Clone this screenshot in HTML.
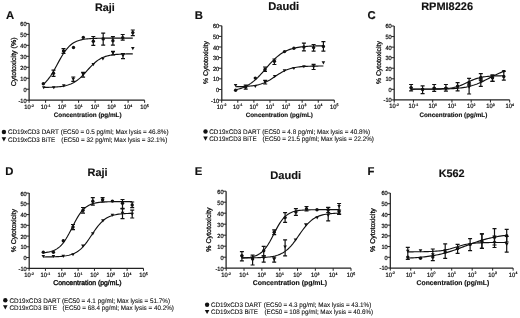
<!DOCTYPE html>
<html><head><meta charset="utf-8"><style>
html,body{margin:0;padding:0;background:#fff;}
body{width:520px;height:318px;overflow:hidden;}
svg{display:block;font-family:"Liberation Sans", sans-serif;filter:blur(0.35px);text-rendering:geometricPrecision;}
text{fill:#111;stroke:#111;stroke-width:0.22px;}
text[font-weight=bold]{stroke-width:0.15px;}
</style></head><body>
<svg width="520" height="318" viewBox="0 0 520 318">
<rect width="520" height="318" fill="#fff"/>
<text x="5.99" y="18.60" font-size="11.30" font-weight="bold">A</text>
<text x="94.98" y="10.50" font-size="10.79" font-weight="bold">Raji</text>
<path d="M29.10 23.40V100.20H144.60" fill="none" stroke="#222" stroke-width="1.25"/>
<text x="20.29" y="25.88" font-size="6.05" textLength="6.23" lengthAdjust="spacingAndGlyphs">60</text>
<text x="20.29" y="36.85" font-size="6.05" textLength="6.23" lengthAdjust="spacingAndGlyphs">50</text>
<text x="20.29" y="47.82" font-size="6.05" textLength="6.23" lengthAdjust="spacingAndGlyphs">40</text>
<text x="20.29" y="58.79" font-size="6.05" textLength="6.23" lengthAdjust="spacingAndGlyphs">30</text>
<text x="20.29" y="69.77" font-size="6.05" textLength="6.23" lengthAdjust="spacingAndGlyphs">20</text>
<text x="20.29" y="80.74" font-size="6.05" textLength="6.23" lengthAdjust="spacingAndGlyphs">10</text>
<text x="23.40" y="91.71" font-size="6.05" textLength="3.11" lengthAdjust="spacingAndGlyphs">0</text>
<text x="18.43" y="102.68" font-size="6.05" textLength="8.09" lengthAdjust="spacingAndGlyphs">-10</text>
<text x="24.23" y="108.70" font-size="6.26" textLength="6.45" lengthAdjust="spacingAndGlyphs">10</text>
<text x="30.78" y="106.50" font-size="3.48">-2</text>
<text x="40.73" y="108.70" font-size="6.26" textLength="6.45" lengthAdjust="spacingAndGlyphs">10</text>
<text x="47.28" y="106.50" font-size="3.48">-1</text>
<text x="57.81" y="108.70" font-size="6.26" textLength="6.45" lengthAdjust="spacingAndGlyphs">10</text>
<text x="64.36" y="106.50" font-size="3.48">0</text>
<text x="74.31" y="108.70" font-size="6.26" textLength="6.45" lengthAdjust="spacingAndGlyphs">10</text>
<text x="80.86" y="106.50" font-size="3.48">1</text>
<text x="90.81" y="108.70" font-size="6.26" textLength="6.45" lengthAdjust="spacingAndGlyphs">10</text>
<text x="97.36" y="106.50" font-size="3.48">2</text>
<text x="107.31" y="108.70" font-size="6.26" textLength="6.45" lengthAdjust="spacingAndGlyphs">10</text>
<text x="113.86" y="106.50" font-size="3.48">3</text>
<text x="123.81" y="108.70" font-size="6.26" textLength="6.45" lengthAdjust="spacingAndGlyphs">10</text>
<text x="130.36" y="106.50" font-size="3.48">4</text>
<text x="140.31" y="108.70" font-size="6.26" textLength="6.45" lengthAdjust="spacingAndGlyphs">10</text>
<text x="146.86" y="106.50" font-size="3.48">5</text>
<path d="M26.10 23.40H29.10M26.10 34.37H29.10M26.10 45.34H29.10M26.10 56.31H29.10M26.10 67.29H29.10M26.10 78.26H29.10M26.10 89.23H29.10M26.10 100.20H29.10M29.10 100.20V102.80M45.60 100.20V102.80M62.10 100.20V102.80M78.60 100.20V102.80M95.10 100.20V102.80M111.60 100.20V102.80M128.10 100.20V102.80M144.60 100.20V102.80" fill="none" stroke="#222" stroke-width="1"/>
<text transform="translate(15.90 86.26) rotate(-90)" x="0" y="0" font-size="7.03" style="stroke-width:0.3px">Cytotoxicity (%)</text>
<text x="53.74" y="117.00" font-size="6.33" font-weight="bold">Concentration (pg/mL)</text>
<circle cx="3.90" cy="132.00" r="2.2" fill="#111"/>
<text x="7.88" y="134.20" font-size="6.63" textLength="50.90" lengthAdjust="spacingAndGlyphs" style="stroke-width:0.1px">CD19xCD3 DART</text>
<text x="60.81" y="134.20" font-size="6.63" textLength="107.78" lengthAdjust="spacingAndGlyphs" style="stroke-width:0.1px">(EC50 = 0.5 pg/ml; Max lysis = 46.8%)</text>
<path d="M1.60 137.20H6.20L3.90 141.40Z" fill="#111"/>
<text x="7.88" y="141.70" font-size="6.63" textLength="47.37" lengthAdjust="spacingAndGlyphs" style="stroke-width:0.1px">CD19xCD3 BiTE</text>
<text x="61.31" y="141.70" font-size="6.63" textLength="105.98" lengthAdjust="spacingAndGlyphs" style="stroke-width:0.1px">(EC50 = 32 pg/ml; Max lysis = 32.1%)</text>
<path d="M43.30 84.33 L44.82 83.01 L46.33 81.48 L47.85 79.72 L49.37 77.72 L50.88 75.50 L52.40 73.08 L53.92 70.48 L55.44 67.74 L56.95 64.94 L58.47 62.12 L59.99 59.36 L61.50 56.71 L63.02 54.22 L64.54 51.92 L66.05 49.85 L67.57 48.01 L69.09 46.40 L70.61 45.01 L72.12 43.82 L73.64 42.82 L75.16 41.98 L76.67 41.27 L78.19 40.69 L79.71 40.21 L81.22 39.82 L82.74 39.50 L84.26 39.23 L85.77 39.02 L87.29 38.84 L88.81 38.70 L90.33 38.59 L91.84 38.49 L93.36 38.42 L94.88 38.36 L96.39 38.31 L97.91 38.27 L99.43 38.23 L100.94 38.21 L102.46 38.19 L103.98 38.17 L105.49 38.16 L107.01 38.14 L108.53 38.14 L110.05 38.13 L111.56 38.12 L113.08 38.12 L114.60 38.11 L116.11 38.11 L117.63 38.11 L119.15 38.11 L120.66 38.10 L122.18 38.10 L123.70 38.10 L125.22 38.10 L126.73 38.10 L128.25 38.10 L129.77 38.10 L131.28 38.10 L132.80 38.10" fill="none" stroke="#111" stroke-width="1.15"/>
<circle cx="43.30" cy="83.70" r="1.7" fill="#111"/>
<path d="M53.50 70.10V76.40M51.50 70.10H55.50M51.50 76.40H55.50" stroke="#111" stroke-width="1.2" fill="none"/>
<circle cx="53.50" cy="73.30" r="1.7" fill="#111"/>
<path d="M63.50 48.70V53.30M61.50 48.70H65.50M61.50 53.30H65.50" stroke="#111" stroke-width="1.2" fill="none"/>
<circle cx="63.50" cy="51.00" r="1.7" fill="#111"/>
<circle cx="73.50" cy="47.50" r="1.7" fill="#111"/>
<circle cx="83.30" cy="37.40" r="1.7" fill="#111"/>
<path d="M93.30 36.50V45.30M91.30 36.50H95.30M91.30 45.30H95.30" stroke="#111" stroke-width="1.2" fill="none"/>
<circle cx="93.30" cy="41.20" r="1.7" fill="#111"/>
<path d="M103.20 33.20V45.20M101.20 33.20H105.20M101.20 45.20H105.20" stroke="#111" stroke-width="1.2" fill="none"/>
<circle cx="103.20" cy="38.90" r="1.7" fill="#111"/>
<path d="M112.90 36.70V45.20M110.90 36.70H114.90M110.90 45.20H114.90" stroke="#111" stroke-width="1.2" fill="none"/>
<circle cx="112.90" cy="40.80" r="1.7" fill="#111"/>
<path d="M122.70 34.50V40.10M120.70 34.50H124.70M120.70 40.10H124.70" stroke="#111" stroke-width="1.2" fill="none"/>
<circle cx="122.70" cy="37.60" r="1.7" fill="#111"/>
<path d="M132.80 30.00V35.70M130.80 30.00H134.80M130.80 35.70H134.80" stroke="#111" stroke-width="1.2" fill="none"/>
<circle cx="132.80" cy="32.60" r="1.7" fill="#111"/>
<path d="M43.70 87.40 L45.21 87.37 L46.72 87.35 L48.23 87.31 L49.74 87.27 L51.25 87.21 L52.76 87.15 L54.27 87.07 L55.78 86.98 L57.29 86.87 L58.80 86.73 L60.31 86.56 L61.82 86.36 L63.33 86.11 L64.84 85.82 L66.35 85.47 L67.86 85.05 L69.37 84.56 L70.88 83.97 L72.39 83.29 L73.90 82.50 L75.41 81.58 L76.92 80.54 L78.43 79.37 L79.94 78.07 L81.45 76.66 L82.96 75.13 L84.47 73.53 L85.98 71.87 L87.49 70.18 L89.01 68.51 L90.52 66.87 L92.03 65.31 L93.54 63.84 L95.05 62.48 L96.56 61.25 L98.07 60.14 L99.58 59.17 L101.09 58.32 L102.60 57.58 L104.11 56.95 L105.62 56.41 L107.13 55.96 L108.64 55.58 L110.15 55.26 L111.66 54.99 L113.17 54.77 L114.68 54.59 L116.19 54.44 L117.70 54.31 L119.21 54.21 L120.72 54.12 L122.23 54.05 L123.74 54.00 L125.25 53.95 L126.76 53.91 L128.27 53.88 L129.78 53.85 L131.29 53.83 L132.80 53.81" fill="none" stroke="#111" stroke-width="1.15"/>
<path d="M41.90 86.20H45.50L43.70 89.30Z" fill="#111"/>
<path d="M52.00 86.20H55.60L53.80 89.30Z" fill="#111"/>
<path d="M62.00 84.30H65.60L63.80 87.40Z" fill="#111"/>
<path d="M73.30 77.00V81.40M71.30 77.00H75.30M71.30 81.40H75.30" stroke="#111" stroke-width="1.2" fill="none"/>
<path d="M71.50 77.70H75.10L73.30 80.80Z" fill="#111"/>
<path d="M83.10 72.40V77.10M81.10 72.40H85.10M81.10 77.10H85.10" stroke="#111" stroke-width="1.2" fill="none"/>
<path d="M81.30 73.10H84.90L83.10 76.20Z" fill="#111"/>
<path d="M91.50 63.10H95.10L93.30 66.20Z" fill="#111"/>
<path d="M101.10 57.50H104.70L102.90 60.60Z" fill="#111"/>
<path d="M113.00 51.30V55.00M111.00 51.30H115.00M111.00 55.00H115.00" stroke="#111" stroke-width="1.2" fill="none"/>
<path d="M111.20 51.70H114.80L113.00 54.80Z" fill="#111"/>
<path d="M123.00 53.60V58.60M121.00 53.60H125.00M121.00 58.60H125.00" stroke="#111" stroke-width="1.2" fill="none"/>
<path d="M121.20 54.20H124.80L123.00 57.30Z" fill="#111"/>
<path d="M131.00 47.10H134.60L132.80 50.20Z" fill="#111"/>
<text x="194.74" y="18.60" font-size="11.30" font-weight="bold">B</text>
<text x="268.15" y="10.25" font-size="11.17" font-weight="bold">Daudi</text>
<path d="M221.80 25.80V100.10H334.33" fill="none" stroke="#222" stroke-width="1.25"/>
<text x="212.99" y="28.28" font-size="6.05" textLength="6.23" lengthAdjust="spacingAndGlyphs">60</text>
<text x="212.99" y="38.89" font-size="6.05" textLength="6.23" lengthAdjust="spacingAndGlyphs">50</text>
<text x="212.99" y="49.51" font-size="6.05" textLength="6.23" lengthAdjust="spacingAndGlyphs">40</text>
<text x="212.99" y="60.12" font-size="6.05" textLength="6.23" lengthAdjust="spacingAndGlyphs">30</text>
<text x="212.99" y="70.74" font-size="6.05" textLength="6.23" lengthAdjust="spacingAndGlyphs">20</text>
<text x="212.99" y="81.35" font-size="6.05" textLength="6.23" lengthAdjust="spacingAndGlyphs">10</text>
<text x="216.10" y="91.97" font-size="6.05" textLength="3.11" lengthAdjust="spacingAndGlyphs">0</text>
<text x="211.12" y="102.58" font-size="6.05" textLength="8.09" lengthAdjust="spacingAndGlyphs">-10</text>
<text x="216.83" y="108.60" font-size="6.26" textLength="6.45" lengthAdjust="spacingAndGlyphs">10</text>
<text x="223.38" y="106.40" font-size="3.48">-2</text>
<text x="232.92" y="108.60" font-size="6.26" textLength="6.45" lengthAdjust="spacingAndGlyphs">10</text>
<text x="239.47" y="106.40" font-size="3.48">-1</text>
<text x="249.59" y="108.60" font-size="6.26" textLength="6.45" lengthAdjust="spacingAndGlyphs">10</text>
<text x="256.14" y="106.40" font-size="3.48">0</text>
<text x="265.68" y="108.60" font-size="6.26" textLength="6.45" lengthAdjust="spacingAndGlyphs">10</text>
<text x="272.23" y="106.40" font-size="3.48">1</text>
<text x="281.77" y="108.60" font-size="6.26" textLength="6.45" lengthAdjust="spacingAndGlyphs">10</text>
<text x="288.32" y="106.40" font-size="3.48">2</text>
<text x="297.86" y="108.60" font-size="6.26" textLength="6.45" lengthAdjust="spacingAndGlyphs">10</text>
<text x="304.41" y="106.40" font-size="3.48">3</text>
<text x="313.95" y="108.60" font-size="6.26" textLength="6.45" lengthAdjust="spacingAndGlyphs">10</text>
<text x="320.50" y="106.40" font-size="3.48">4</text>
<text x="330.04" y="108.60" font-size="6.26" textLength="6.45" lengthAdjust="spacingAndGlyphs">10</text>
<text x="336.59" y="106.40" font-size="3.48">5</text>
<path d="M218.80 25.80H221.80M218.80 36.41H221.80M218.80 47.03H221.80M218.80 57.64H221.80M218.80 68.26H221.80M218.80 78.87H221.80M218.80 89.49H221.80M218.80 100.10H221.80M221.70 100.10V102.70M237.79 100.10V102.70M253.88 100.10V102.70M269.97 100.10V102.70M286.06 100.10V102.70M302.15 100.10V102.70M318.24 100.10V102.70M334.33 100.10V102.70" fill="none" stroke="#222" stroke-width="1"/>
<text transform="translate(208.40 84.04) rotate(-90)" x="0" y="0" font-size="6.83" style="stroke-width:0.3px">% Cytotoxicity</text>
<text x="245.74" y="117.00" font-size="6.27" font-weight="bold">Concentration (pg/mL)</text>
<circle cx="205.50" cy="131.50" r="2.2" fill="#111"/>
<text x="209.28" y="133.70" font-size="6.65" textLength="50.99" lengthAdjust="spacingAndGlyphs" style="stroke-width:0.1px">CD19xCD3 DART</text>
<text x="262.21" y="133.70" font-size="6.65" textLength="107.98" lengthAdjust="spacingAndGlyphs" style="stroke-width:0.1px">(EC50 = 4.8 pg/ml; Max lysis = 40.8%)</text>
<path d="M203.20 136.60H207.80L205.50 140.80Z" fill="#111"/>
<text x="209.28" y="141.10" font-size="6.64" textLength="47.43" lengthAdjust="spacingAndGlyphs" style="stroke-width:0.1px">CD19xCD3 BiTE</text>
<text x="262.61" y="141.10" font-size="6.64" textLength="111.38" lengthAdjust="spacingAndGlyphs" style="stroke-width:0.1px">(EC50 = 21.5 pg/ml; Max lysis = 22.2%)</text>
<path d="M235.60 89.78 L237.09 89.45 L238.58 89.07 L240.06 88.64 L241.55 88.15 L243.04 87.59 L244.53 86.96 L246.02 86.26 L247.51 85.47 L248.99 84.59 L250.48 83.62 L251.97 82.55 L253.46 81.38 L254.95 80.12 L256.43 78.76 L257.92 77.30 L259.41 75.77 L260.90 74.17 L262.39 72.51 L263.87 70.82 L265.36 69.10 L266.85 67.37 L268.34 65.67 L269.83 63.99 L271.32 62.37 L272.80 60.81 L274.29 59.34 L275.78 57.94 L277.27 56.65 L278.76 55.45 L280.24 54.34 L281.73 53.34 L283.22 52.43 L284.71 51.61 L286.20 50.88 L287.68 50.23 L289.17 49.65 L290.66 49.14 L292.15 48.68 L293.64 48.29 L295.13 47.94 L296.61 47.64 L298.10 47.37 L299.59 47.14 L301.08 46.94 L302.57 46.76 L304.05 46.61 L305.54 46.48 L307.03 46.37 L308.52 46.27 L310.01 46.18 L311.49 46.11 L312.98 46.04 L314.47 45.99 L315.96 45.94 L317.45 45.90 L318.94 45.87 L320.42 45.83 L321.91 45.81 L323.40 45.79" fill="none" stroke="#111" stroke-width="1.15"/>
<circle cx="235.60" cy="90.20" r="1.7" fill="#111"/>
<path d="M245.70 85.00V89.20M243.70 85.00H247.70M243.70 89.20H247.70" stroke="#111" stroke-width="1.2" fill="none"/>
<circle cx="245.70" cy="86.90" r="1.7" fill="#111"/>
<circle cx="255.30" cy="78.10" r="1.7" fill="#111"/>
<path d="M265.00 67.00V71.40M263.00 67.00H267.00M263.00 71.40H267.00" stroke="#111" stroke-width="1.2" fill="none"/>
<circle cx="265.00" cy="69.50" r="1.7" fill="#111"/>
<path d="M274.40 59.00V64.50M272.40 59.00H276.40M272.40 64.50H276.40" stroke="#111" stroke-width="1.2" fill="none"/>
<circle cx="274.40" cy="61.30" r="1.7" fill="#111"/>
<circle cx="284.50" cy="51.60" r="1.7" fill="#111"/>
<circle cx="293.90" cy="48.20" r="1.7" fill="#111"/>
<path d="M303.90 43.20V50.80M301.90 43.20H305.90M301.90 50.80H305.90" stroke="#111" stroke-width="1.2" fill="none"/>
<circle cx="303.90" cy="47.00" r="1.7" fill="#111"/>
<path d="M313.60 44.50V51.10M311.60 44.50H315.60M311.60 51.10H315.60" stroke="#111" stroke-width="1.2" fill="none"/>
<circle cx="313.60" cy="47.60" r="1.7" fill="#111"/>
<path d="M323.40 41.60V51.10M321.40 41.60H325.40M321.40 51.10H325.40" stroke="#111" stroke-width="1.2" fill="none"/>
<circle cx="323.40" cy="46.40" r="1.7" fill="#111"/>
<path d="M235.60 86.70 L237.09 86.67 L238.58 86.64 L240.06 86.60 L241.55 86.56 L243.04 86.50 L244.53 86.44 L246.02 86.36 L247.51 86.26 L248.99 86.15 L250.48 86.01 L251.97 85.84 L253.46 85.65 L254.95 85.42 L256.43 85.14 L257.92 84.82 L259.41 84.45 L260.90 84.01 L262.39 83.51 L263.87 82.94 L265.36 82.29 L266.85 81.58 L268.34 80.78 L269.83 79.93 L271.32 79.01 L272.80 78.05 L274.29 77.06 L275.78 76.06 L277.27 75.06 L278.76 74.09 L280.24 73.16 L281.73 72.28 L283.22 71.47 L284.71 70.73 L286.20 70.06 L287.68 69.46 L289.17 68.94 L290.66 68.48 L292.15 68.08 L293.64 67.74 L295.13 67.46 L296.61 67.21 L298.10 67.00 L299.59 66.83 L301.08 66.68 L302.57 66.56 L304.05 66.46 L305.54 66.38 L307.03 66.31 L308.52 66.25 L310.01 66.20 L311.49 66.16 L312.98 66.13 L314.47 66.10 L315.96 66.07 L317.45 66.06 L318.94 66.04 L320.42 66.03 L321.91 66.02 L323.40 66.01" fill="none" stroke="#111" stroke-width="1.15"/>
<path d="M233.80 83.90H237.40L235.60 87.00Z" fill="#111"/>
<path d="M243.90 85.40H247.50L245.70 88.50Z" fill="#111"/>
<path d="M253.50 85.00H257.10L255.30 88.10Z" fill="#111"/>
<path d="M265.20 80.30V84.00M263.20 80.30H267.20M263.20 84.00H267.20" stroke="#111" stroke-width="1.2" fill="none"/>
<path d="M263.40 80.70H267.00L265.20 83.80Z" fill="#111"/>
<path d="M272.90 74.90H276.50L274.70 78.00Z" fill="#111"/>
<path d="M282.70 69.20H286.30L284.50 72.30Z" fill="#111"/>
<path d="M292.10 67.00H295.70L293.90 70.10Z" fill="#111"/>
<path d="M302.10 65.20H305.70L303.90 68.30Z" fill="#111"/>
<path d="M313.60 64.40V69.50M311.60 64.40H315.60M311.60 69.50H315.60" stroke="#111" stroke-width="1.2" fill="none"/>
<path d="M311.80 65.50H315.40L313.60 68.60Z" fill="#111"/>
<path d="M321.60 61.30H325.20L323.40 64.40Z" fill="#111"/>
<text x="367.54" y="18.60" font-size="11.30" font-weight="bold">C</text>
<text x="421.17" y="10.00" font-size="10.97" font-weight="bold">RPMI8226</text>
<path d="M394.20 26.00V99.90H509.70" fill="none" stroke="#222" stroke-width="1.25"/>
<text x="385.39" y="28.48" font-size="6.05" textLength="6.23" lengthAdjust="spacingAndGlyphs">60</text>
<text x="385.39" y="39.04" font-size="6.05" textLength="6.23" lengthAdjust="spacingAndGlyphs">50</text>
<text x="385.39" y="49.59" font-size="6.05" textLength="6.23" lengthAdjust="spacingAndGlyphs">40</text>
<text x="385.39" y="60.15" font-size="6.05" textLength="6.23" lengthAdjust="spacingAndGlyphs">30</text>
<text x="385.39" y="70.71" font-size="6.05" textLength="6.23" lengthAdjust="spacingAndGlyphs">20</text>
<text x="385.39" y="81.27" font-size="6.05" textLength="6.23" lengthAdjust="spacingAndGlyphs">10</text>
<text x="388.50" y="91.82" font-size="6.05" textLength="3.11" lengthAdjust="spacingAndGlyphs">0</text>
<text x="383.52" y="102.38" font-size="6.05" textLength="8.09" lengthAdjust="spacingAndGlyphs">-10</text>
<text x="389.33" y="108.40" font-size="6.26" textLength="6.45" lengthAdjust="spacingAndGlyphs">10</text>
<text x="395.88" y="106.20" font-size="3.48">-2</text>
<text x="408.58" y="108.40" font-size="6.26" textLength="6.45" lengthAdjust="spacingAndGlyphs">10</text>
<text x="415.13" y="106.20" font-size="3.48">-1</text>
<text x="428.41" y="108.40" font-size="6.26" textLength="6.45" lengthAdjust="spacingAndGlyphs">10</text>
<text x="434.96" y="106.20" font-size="3.48">0</text>
<text x="447.66" y="108.40" font-size="6.26" textLength="6.45" lengthAdjust="spacingAndGlyphs">10</text>
<text x="454.21" y="106.20" font-size="3.48">1</text>
<text x="466.91" y="108.40" font-size="6.26" textLength="6.45" lengthAdjust="spacingAndGlyphs">10</text>
<text x="473.46" y="106.20" font-size="3.48">2</text>
<text x="486.16" y="108.40" font-size="6.26" textLength="6.45" lengthAdjust="spacingAndGlyphs">10</text>
<text x="492.71" y="106.20" font-size="3.48">3</text>
<text x="505.41" y="108.40" font-size="6.26" textLength="6.45" lengthAdjust="spacingAndGlyphs">10</text>
<text x="511.96" y="106.20" font-size="3.48">4</text>
<path d="M391.20 26.00H394.20M391.20 36.56H394.20M391.20 47.11H394.20M391.20 57.67H394.20M391.20 68.23H394.20M391.20 78.79H394.20M391.20 89.34H394.20M391.20 99.90H394.20M394.20 99.90V102.50M413.45 99.90V102.50M432.70 99.90V102.50M451.95 99.90V102.50M471.20 99.90V102.50M490.45 99.90V102.50M509.70 99.90V102.50" fill="none" stroke="#222" stroke-width="1"/>
<text transform="translate(380.70 84.04) rotate(-90)" x="0" y="0" font-size="6.83" style="stroke-width:0.3px">% Cytotoxicity</text>
<text x="419.44" y="117.00" font-size="6.34" font-weight="bold">Concentration (pg/mL)</text>
<path d="M411.10 89.05 L412.67 89.05 L414.24 89.05 L415.81 89.04 L417.38 89.04 L418.96 89.04 L420.53 89.04 L422.10 89.03 L423.67 89.03 L425.24 89.02 L426.81 89.01 L428.38 89.00 L429.95 88.99 L431.53 88.98 L433.10 88.96 L434.67 88.93 L436.24 88.91 L437.81 88.87 L439.38 88.82 L440.95 88.77 L442.52 88.69 L444.09 88.61 L445.67 88.50 L447.24 88.36 L448.81 88.20 L450.38 88.00 L451.95 87.76 L453.52 87.47 L455.09 87.13 L456.66 86.73 L458.24 86.26 L459.81 85.73 L461.38 85.14 L462.95 84.48 L464.52 83.78 L466.09 83.05 L467.66 82.29 L469.23 81.54 L470.81 80.82 L472.38 80.12 L473.95 79.48 L475.52 78.90 L477.09 78.39 L478.66 77.94 L480.23 77.55 L481.80 77.22 L483.37 76.94 L484.95 76.71 L486.52 76.52 L488.09 76.36 L489.66 76.24 L491.23 76.13 L492.80 76.05 L494.37 75.98 L495.94 75.93 L497.52 75.88 L499.09 75.85 L500.66 75.82 L502.23 75.80 L503.80 75.78" fill="none" stroke="#111" stroke-width="1.15"/>
<path d="M411.10 84.50V90.80M409.10 84.50H413.10M409.10 90.80H413.10" stroke="#111" stroke-width="1.2" fill="none"/>
<circle cx="411.10" cy="87.70" r="1.7" fill="#111"/>
<path d="M422.60 85.80V93.70M420.60 85.80H424.60M420.60 93.70H424.60" stroke="#111" stroke-width="1.2" fill="none"/>
<circle cx="422.60" cy="89.60" r="1.7" fill="#111"/>
<path d="M434.20 84.50V91.40M432.20 84.50H436.20M432.20 91.40H436.20" stroke="#111" stroke-width="1.2" fill="none"/>
<circle cx="434.20" cy="88.30" r="1.7" fill="#111"/>
<path d="M445.90 84.50V91.20M443.90 84.50H447.90M443.90 91.20H447.90" stroke="#111" stroke-width="1.2" fill="none"/>
<circle cx="445.90" cy="88.30" r="1.7" fill="#111"/>
<path d="M457.60 82.70V90.80M455.60 82.70H459.60M455.60 90.80H459.60" stroke="#111" stroke-width="1.2" fill="none"/>
<circle cx="457.60" cy="86.10" r="1.7" fill="#111"/>
<path d="M469.10 78.30V85.20M467.10 78.30H471.10M467.10 85.20H471.10" stroke="#111" stroke-width="1.2" fill="none"/>
<circle cx="469.10" cy="82.50" r="1.7" fill="#111"/>
<path d="M480.80 73.60V80.20M478.80 73.60H482.80M478.80 80.20H482.80" stroke="#111" stroke-width="1.2" fill="none"/>
<circle cx="480.80" cy="77.50" r="1.7" fill="#111"/>
<path d="M492.50 75.10V81.40M490.50 75.10H494.50M490.50 81.40H494.50" stroke="#111" stroke-width="1.2" fill="none"/>
<circle cx="492.50" cy="77.80" r="1.7" fill="#111"/>
<path d="M503.80 71.40V80.20M501.80 71.40H505.80M501.80 80.20H505.80" stroke="#111" stroke-width="1.2" fill="none"/>
<circle cx="503.80" cy="76.50" r="1.7" fill="#111"/>
<path d="M411.10 89.28 L412.67 89.27 L414.24 89.27 L415.81 89.27 L417.38 89.27 L418.96 89.26 L420.53 89.26 L422.10 89.25 L423.67 89.25 L425.24 89.24 L426.81 89.23 L428.38 89.22 L429.95 89.21 L431.53 89.20 L433.10 89.19 L434.67 89.17 L436.24 89.15 L437.81 89.13 L439.38 89.10 L440.95 89.07 L442.52 89.03 L444.09 88.99 L445.67 88.95 L447.24 88.89 L448.81 88.83 L450.38 88.75 L451.95 88.67 L453.52 88.57 L455.09 88.46 L456.66 88.33 L458.24 88.18 L459.81 88.01 L461.38 87.82 L462.95 87.60 L464.52 87.35 L466.09 87.07 L467.66 86.75 L469.23 86.39 L470.81 85.99 L472.38 85.54 L473.95 85.05 L475.52 84.51 L477.09 83.92 L478.66 83.29 L480.23 82.61 L481.80 81.89 L483.37 81.13 L484.95 80.34 L486.52 79.53 L488.09 78.71 L489.66 77.88 L491.23 77.06 L492.80 76.25 L494.37 75.46 L495.94 74.70 L497.52 73.97 L499.09 73.29 L500.66 72.66 L502.23 72.07 L503.80 71.52" fill="none" stroke="#111" stroke-width="1.15"/>
<path d="M409.30 87.00H412.90L411.10 90.10Z" fill="#111"/>
<path d="M420.80 88.00H424.40L422.60 91.10Z" fill="#111"/>
<path d="M432.40 87.30H436.00L434.20 90.40Z" fill="#111"/>
<path d="M444.10 87.00H447.70L445.90 90.10Z" fill="#111"/>
<path d="M455.80 86.20H459.40L457.60 89.30Z" fill="#111"/>
<path d="M469.10 84.00V94.00M467.10 84.00H471.10M467.10 94.00H471.10" stroke="#111" stroke-width="1.2" fill="none"/>
<path d="M467.30 85.70H470.90L469.10 88.80Z" fill="#111"/>
<path d="M480.80 78.90V86.40M478.80 78.90H482.80M478.80 86.40H482.80" stroke="#111" stroke-width="1.2" fill="none"/>
<path d="M479.00 80.30H482.60L480.80 83.40Z" fill="#111"/>
<path d="M492.50 75.10V81.40M490.50 75.10H494.50M490.50 81.40H494.50" stroke="#111" stroke-width="1.2" fill="none"/>
<path d="M490.70 77.00H494.30L492.50 80.10Z" fill="#111"/>
<path d="M502.00 70.10H505.60L503.80 73.20Z" fill="#111"/>
<text x="5.24" y="175.10" font-size="11.30" font-weight="bold">D</text>
<text x="87.57" y="176.00" font-size="10.91" font-weight="bold">Raji</text>
<path d="M29.20 193.10V268.30H143.48" fill="none" stroke="#222" stroke-width="1.25"/>
<text x="20.39" y="195.58" font-size="6.05" textLength="6.23" lengthAdjust="spacingAndGlyphs">60</text>
<text x="20.39" y="206.32" font-size="6.05" textLength="6.23" lengthAdjust="spacingAndGlyphs">50</text>
<text x="20.39" y="217.07" font-size="6.05" textLength="6.23" lengthAdjust="spacingAndGlyphs">40</text>
<text x="20.39" y="227.81" font-size="6.05" textLength="6.23" lengthAdjust="spacingAndGlyphs">30</text>
<text x="20.39" y="238.55" font-size="6.05" textLength="6.23" lengthAdjust="spacingAndGlyphs">20</text>
<text x="20.39" y="249.29" font-size="6.05" textLength="6.23" lengthAdjust="spacingAndGlyphs">10</text>
<text x="23.50" y="260.04" font-size="6.05" textLength="3.11" lengthAdjust="spacingAndGlyphs">0</text>
<text x="18.52" y="270.78" font-size="6.05" textLength="8.09" lengthAdjust="spacingAndGlyphs">-10</text>
<text x="24.23" y="276.80" font-size="6.26" textLength="6.45" lengthAdjust="spacingAndGlyphs">10</text>
<text x="30.78" y="274.60" font-size="3.48">-2</text>
<text x="40.57" y="276.80" font-size="6.26" textLength="6.45" lengthAdjust="spacingAndGlyphs">10</text>
<text x="47.12" y="274.60" font-size="3.48">-1</text>
<text x="57.49" y="276.80" font-size="6.26" textLength="6.45" lengthAdjust="spacingAndGlyphs">10</text>
<text x="64.04" y="274.60" font-size="3.48">0</text>
<text x="73.83" y="276.80" font-size="6.26" textLength="6.45" lengthAdjust="spacingAndGlyphs">10</text>
<text x="80.38" y="274.60" font-size="3.48">1</text>
<text x="90.17" y="276.80" font-size="6.26" textLength="6.45" lengthAdjust="spacingAndGlyphs">10</text>
<text x="96.72" y="274.60" font-size="3.48">2</text>
<text x="106.51" y="276.80" font-size="6.26" textLength="6.45" lengthAdjust="spacingAndGlyphs">10</text>
<text x="113.06" y="274.60" font-size="3.48">3</text>
<text x="122.85" y="276.80" font-size="6.26" textLength="6.45" lengthAdjust="spacingAndGlyphs">10</text>
<text x="129.40" y="274.60" font-size="3.48">4</text>
<text x="139.19" y="276.80" font-size="6.26" textLength="6.45" lengthAdjust="spacingAndGlyphs">10</text>
<text x="145.74" y="274.60" font-size="3.48">5</text>
<path d="M26.20 193.10H29.20M26.20 203.84H29.20M26.20 214.59H29.20M26.20 225.33H29.20M26.20 236.07H29.20M26.20 246.81H29.20M26.20 257.56H29.20M26.20 268.30H29.20M29.10 268.30V270.90M45.44 268.30V270.90M61.78 268.30V270.90M78.12 268.30V270.90M94.46 268.30V270.90M110.80 268.30V270.90M127.14 268.30V270.90M143.48 268.30V270.90" fill="none" stroke="#222" stroke-width="1"/>
<text transform="translate(15.80 252.24) rotate(-90)" x="0" y="0" font-size="6.87" style="stroke-width:0.3px">% Cytotoxicity</text>
<text x="53.35" y="284.60" font-size="6.86" style="stroke-width:0.4px">Concentration (pg/mL)</text>
<circle cx="5.30" cy="300.30" r="2.2" fill="#111"/>
<text x="9.43" y="302.50" font-size="6.65" textLength="51.04" lengthAdjust="spacingAndGlyphs" style="stroke-width:0.1px">CD19xCD3 DART</text>
<text x="61.91" y="302.50" font-size="6.65" textLength="108.09" lengthAdjust="spacingAndGlyphs" style="stroke-width:0.1px">(EC50 = 4.1 pg/ml; Max lysis = 51.7%)</text>
<path d="M3.00 305.20H7.60L5.30 309.40Z" fill="#111"/>
<text x="9.43" y="309.70" font-size="6.64" textLength="47.43" lengthAdjust="spacingAndGlyphs" style="stroke-width:0.1px">CD19xCD3 BiTE</text>
<text x="62.61" y="309.70" font-size="6.64" textLength="111.38" lengthAdjust="spacingAndGlyphs" style="stroke-width:0.1px">(EC50 = 68.4 pg/ml; Max lysis = 40.2%)</text>
<path d="M43.30 252.79 L44.81 252.63 L46.31 252.44 L47.82 252.19 L49.33 251.89 L50.83 251.51 L52.34 251.04 L53.85 250.46 L55.35 249.75 L56.86 248.88 L58.37 247.83 L59.87 246.57 L61.38 245.08 L62.89 243.33 L64.39 241.32 L65.90 239.05 L67.41 236.53 L68.92 233.79 L70.42 230.90 L71.93 227.92 L73.44 224.93 L74.94 222.01 L76.45 219.22 L77.96 216.64 L79.46 214.29 L80.97 212.20 L82.48 210.38 L83.98 208.82 L85.49 207.50 L87.00 206.39 L88.50 205.47 L90.01 204.72 L91.52 204.10 L93.02 203.61 L94.53 203.20 L96.04 202.88 L97.54 202.62 L99.05 202.41 L100.56 202.24 L102.06 202.11 L103.57 202.00 L105.08 201.92 L106.58 201.85 L108.09 201.80 L109.60 201.76 L111.11 201.72 L112.61 201.70 L114.12 201.68 L115.63 201.66 L117.13 201.65 L118.64 201.64 L120.15 201.63 L121.65 201.62 L123.16 201.62 L124.67 201.61 L126.17 201.61 L127.68 201.60 L129.19 201.60 L130.69 201.60 L132.20 201.60" fill="none" stroke="#111" stroke-width="1.15"/>
<circle cx="43.30" cy="252.20" r="1.7" fill="#111"/>
<circle cx="53.40" cy="252.20" r="1.7" fill="#111"/>
<circle cx="63.30" cy="240.80" r="1.7" fill="#111"/>
<path d="M73.00 224.50V229.60M71.00 224.50H75.00M71.00 229.60H75.00" stroke="#111" stroke-width="1.2" fill="none"/>
<circle cx="73.00" cy="227.00" r="1.7" fill="#111"/>
<path d="M83.00 207.50V213.20M81.00 207.50H85.00M81.00 213.20H85.00" stroke="#111" stroke-width="1.2" fill="none"/>
<circle cx="83.00" cy="210.30" r="1.7" fill="#111"/>
<path d="M92.80 197.60V205.10M90.80 197.60H94.80M90.80 205.10H94.80" stroke="#111" stroke-width="1.2" fill="none"/>
<circle cx="92.80" cy="201.30" r="1.7" fill="#111"/>
<path d="M102.60 197.60V202.00M100.60 197.60H104.60M100.60 202.00H104.60" stroke="#111" stroke-width="1.2" fill="none"/>
<circle cx="102.60" cy="199.80" r="1.7" fill="#111"/>
<circle cx="112.40" cy="201.10" r="1.7" fill="#111"/>
<path d="M122.50 199.50V208.90M120.50 199.50H124.50M120.50 208.90H124.50" stroke="#111" stroke-width="1.2" fill="none"/>
<circle cx="122.50" cy="203.20" r="1.7" fill="#111"/>
<path d="M132.20 202.00V207.60M130.20 202.00H134.20M130.20 207.60H134.20" stroke="#111" stroke-width="1.2" fill="none"/>
<circle cx="132.20" cy="204.90" r="1.7" fill="#111"/>
<path d="M43.30 256.97 L44.81 256.96 L46.31 256.94 L47.82 256.92 L49.33 256.90 L50.83 256.87 L52.34 256.83 L53.85 256.79 L55.35 256.73 L56.86 256.67 L58.37 256.58 L59.87 256.48 L61.38 256.36 L62.89 256.21 L64.39 256.03 L65.90 255.80 L67.41 255.53 L68.92 255.20 L70.42 254.80 L71.93 254.32 L73.44 253.74 L74.94 253.05 L76.45 252.23 L77.96 251.26 L79.46 250.14 L80.97 248.84 L82.48 247.37 L83.98 245.71 L85.49 243.88 L87.00 241.89 L88.50 239.77 L90.01 237.55 L91.52 235.28 L93.02 233.00 L94.53 230.77 L96.04 228.63 L97.54 226.62 L99.05 224.76 L100.56 223.07 L102.06 221.56 L103.57 220.24 L105.08 219.09 L106.58 218.10 L108.09 217.26 L109.60 216.55 L111.11 215.95 L112.61 215.45 L114.12 215.04 L115.63 214.70 L117.13 214.41 L118.64 214.18 L120.15 213.99 L121.65 213.84 L123.16 213.71 L124.67 213.61 L126.17 213.52 L127.68 213.45 L129.19 213.40 L130.69 213.35 L132.20 213.31" fill="none" stroke="#111" stroke-width="1.15"/>
<path d="M41.50 254.90H45.10L43.30 258.00Z" fill="#111"/>
<path d="M51.60 254.90H55.20L53.40 258.00Z" fill="#111"/>
<path d="M61.50 254.80H65.10L63.30 257.90Z" fill="#111"/>
<path d="M71.20 253.20H74.80L73.00 256.30Z" fill="#111"/>
<path d="M81.10 244.60H84.70L82.90 247.70Z" fill="#111"/>
<path d="M91.00 232.30H94.60L92.80 235.40Z" fill="#111"/>
<path d="M101.10 219.30H104.70L102.90 222.40Z" fill="#111"/>
<path d="M110.60 213.70H114.20L112.40 216.80Z" fill="#111"/>
<path d="M122.50 208.30V218.70M120.50 208.30H124.50M120.50 218.70H124.50" stroke="#111" stroke-width="1.2" fill="none"/>
<path d="M120.70 211.80H124.30L122.50 214.90Z" fill="#111"/>
<path d="M132.20 210.20V218.00M130.20 210.20H134.20M130.20 218.00H134.20" stroke="#111" stroke-width="1.2" fill="none"/>
<path d="M130.40 212.70H134.00L132.20 215.80Z" fill="#111"/>
<text x="194.64" y="175.10" font-size="11.30" font-weight="bold">E</text>
<text x="270.36" y="178.80" font-size="11.10" font-weight="bold">Daudi</text>
<path d="M226.10 191.20V268.20H351.01" fill="none" stroke="#222" stroke-width="1.25"/>
<text x="217.29" y="193.68" font-size="6.05" textLength="6.23" lengthAdjust="spacingAndGlyphs">60</text>
<text x="217.29" y="204.68" font-size="6.05" textLength="6.23" lengthAdjust="spacingAndGlyphs">50</text>
<text x="217.29" y="215.68" font-size="6.05" textLength="6.23" lengthAdjust="spacingAndGlyphs">40</text>
<text x="217.29" y="226.68" font-size="6.05" textLength="6.23" lengthAdjust="spacingAndGlyphs">30</text>
<text x="217.29" y="237.68" font-size="6.05" textLength="6.23" lengthAdjust="spacingAndGlyphs">20</text>
<text x="217.29" y="248.68" font-size="6.05" textLength="6.23" lengthAdjust="spacingAndGlyphs">10</text>
<text x="220.40" y="259.68" font-size="6.05" textLength="3.11" lengthAdjust="spacingAndGlyphs">0</text>
<text x="215.42" y="270.68" font-size="6.05" textLength="8.09" lengthAdjust="spacingAndGlyphs">-10</text>
<text x="221.33" y="276.70" font-size="6.26" textLength="6.45" lengthAdjust="spacingAndGlyphs">10</text>
<text x="227.88" y="274.50" font-size="3.48">-2</text>
<text x="239.16" y="276.70" font-size="6.26" textLength="6.45" lengthAdjust="spacingAndGlyphs">10</text>
<text x="245.71" y="274.50" font-size="3.48">-1</text>
<text x="257.57" y="276.70" font-size="6.26" textLength="6.45" lengthAdjust="spacingAndGlyphs">10</text>
<text x="264.12" y="274.50" font-size="3.48">0</text>
<text x="275.40" y="276.70" font-size="6.26" textLength="6.45" lengthAdjust="spacingAndGlyphs">10</text>
<text x="281.95" y="274.50" font-size="3.48">1</text>
<text x="293.23" y="276.70" font-size="6.26" textLength="6.45" lengthAdjust="spacingAndGlyphs">10</text>
<text x="299.78" y="274.50" font-size="3.48">2</text>
<text x="311.06" y="276.70" font-size="6.26" textLength="6.45" lengthAdjust="spacingAndGlyphs">10</text>
<text x="317.61" y="274.50" font-size="3.48">3</text>
<text x="328.89" y="276.70" font-size="6.26" textLength="6.45" lengthAdjust="spacingAndGlyphs">10</text>
<text x="335.44" y="274.50" font-size="3.48">4</text>
<text x="346.72" y="276.70" font-size="6.26" textLength="6.45" lengthAdjust="spacingAndGlyphs">10</text>
<text x="353.27" y="274.50" font-size="3.48">5</text>
<path d="M223.10 191.20H226.10M223.10 202.20H226.10M223.10 213.20H226.10M223.10 224.20H226.10M223.10 235.20H226.10M223.10 246.20H226.10M223.10 257.20H226.10M223.10 268.20H226.10M226.20 268.20V270.80M244.03 268.20V270.80M261.86 268.20V270.80M279.69 268.20V270.80M297.52 268.20V270.80M315.35 268.20V270.80M333.18 268.20V270.80M351.01 268.20V270.80" fill="none" stroke="#222" stroke-width="1"/>
<text transform="translate(211.10 251.65) rotate(-90)" x="0" y="0" font-size="7.03" style="stroke-width:0.3px">% Cytotoxicity</text>
<text x="252.82" y="284.80" font-size="6.93" font-weight="bold">Concentration (pg/mL)</text>
<circle cx="207.10" cy="304.80" r="2.2" fill="#111"/>
<text x="210.98" y="307.00" font-size="6.61" textLength="50.75" lengthAdjust="spacingAndGlyphs" style="stroke-width:0.1px">CD19xCD3 DART</text>
<text x="263.81" y="307.00" font-size="6.61" textLength="107.48" lengthAdjust="spacingAndGlyphs" style="stroke-width:0.1px">(EC50 = 4.3 pg/ml; Max lysis = 43.1%)</text>
<path d="M204.80 309.90H209.40L207.10 314.10Z" fill="#111"/>
<text x="210.98" y="314.40" font-size="6.59" textLength="47.06" lengthAdjust="spacingAndGlyphs" style="stroke-width:0.1px">CD19xCD3 BiTE</text>
<text x="264.41" y="314.40" font-size="6.59" textLength="108.78" lengthAdjust="spacingAndGlyphs" style="stroke-width:0.1px">(EC50 = 108 pg/ml; Max lysis = 40.6%)</text>
<path d="M241.90 257.98 L243.55 257.89 L245.19 257.78 L246.84 257.64 L248.49 257.45 L250.14 257.21 L251.78 256.90 L253.43 256.50 L255.08 255.99 L256.73 255.35 L258.37 254.53 L260.02 253.51 L261.67 252.25 L263.32 250.71 L264.96 248.86 L266.61 246.70 L268.26 244.20 L269.91 241.42 L271.55 238.40 L273.20 235.24 L274.85 232.03 L276.50 228.88 L278.14 225.91 L279.79 223.18 L281.44 220.75 L283.09 218.65 L284.73 216.87 L286.38 215.39 L288.03 214.18 L289.68 213.20 L291.32 212.43 L292.97 211.81 L294.62 211.32 L296.27 210.95 L297.91 210.65 L299.56 210.42 L301.21 210.25 L302.86 210.11 L304.50 210.00 L306.15 209.92 L307.80 209.86 L309.45 209.81 L311.09 209.77 L312.74 209.75 L314.39 209.72 L316.04 209.71 L317.68 209.69 L319.33 209.68 L320.98 209.68 L322.63 209.67 L324.27 209.67 L325.92 209.66 L327.57 209.66 L329.22 209.66 L330.86 209.66 L332.51 209.66 L334.16 209.65 L335.81 209.65 L337.45 209.65 L339.10 209.65" fill="none" stroke="#111" stroke-width="1.15"/>
<path d="M241.90 251.70V260.90M239.90 251.70H243.90M239.90 260.90H243.90" stroke="#111" stroke-width="1.2" fill="none"/>
<circle cx="241.90" cy="255.80" r="1.7" fill="#111"/>
<path d="M252.60 255.20V265.00M250.60 255.20H254.60M250.60 265.00H254.60" stroke="#111" stroke-width="1.2" fill="none"/>
<circle cx="252.60" cy="258.90" r="1.7" fill="#111"/>
<path d="M263.70 246.40V255.80M261.70 246.40H265.70M261.70 255.80H265.70" stroke="#111" stroke-width="1.2" fill="none"/>
<circle cx="263.70" cy="250.80" r="1.7" fill="#111"/>
<path d="M274.20 229.90V234.60M272.20 229.90H276.20M272.20 234.60H276.20" stroke="#111" stroke-width="1.2" fill="none"/>
<circle cx="274.20" cy="232.20" r="1.7" fill="#111"/>
<path d="M285.10 212.60V222.40M283.10 212.60H287.10M283.10 222.40H287.10" stroke="#111" stroke-width="1.2" fill="none"/>
<circle cx="285.10" cy="217.60" r="1.7" fill="#111"/>
<path d="M295.90 208.60V215.30M293.90 208.60H297.90M293.90 215.30H297.90" stroke="#111" stroke-width="1.2" fill="none"/>
<circle cx="295.90" cy="212.00" r="1.7" fill="#111"/>
<path d="M306.50 206.50V210.90M304.50 206.50H308.50M304.50 210.90H308.50" stroke="#111" stroke-width="1.2" fill="none"/>
<circle cx="306.50" cy="208.70" r="1.7" fill="#111"/>
<circle cx="317.00" cy="209.80" r="1.7" fill="#111"/>
<path d="M328.20 207.30V212.50M326.20 207.30H330.20M326.20 212.50H330.20" stroke="#111" stroke-width="1.2" fill="none"/>
<circle cx="328.20" cy="210.10" r="1.7" fill="#111"/>
<path d="M339.10 210.00V214.30M337.10 210.00H341.10M337.10 214.30H341.10" stroke="#111" stroke-width="1.2" fill="none"/>
<circle cx="339.10" cy="211.50" r="1.7" fill="#111"/>
<path d="M241.90 257.88 L243.55 257.87 L245.19 257.87 L246.84 257.86 L248.49 257.84 L250.14 257.83 L251.78 257.81 L253.43 257.78 L255.08 257.75 L256.73 257.71 L258.37 257.67 L260.02 257.61 L261.67 257.54 L263.32 257.45 L264.96 257.35 L266.61 257.22 L268.26 257.05 L269.91 256.86 L271.55 256.62 L273.20 256.32 L274.85 255.96 L276.50 255.52 L278.14 254.99 L279.79 254.36 L281.44 253.60 L283.09 252.69 L284.73 251.63 L286.38 250.39 L288.03 248.97 L289.68 247.35 L291.32 245.54 L292.97 243.54 L294.62 241.39 L296.27 239.12 L297.91 236.76 L299.56 234.37 L301.21 232.01 L302.86 229.72 L304.50 227.55 L306.15 225.53 L307.80 223.70 L309.45 222.05 L311.09 220.60 L312.74 219.34 L314.39 218.26 L316.04 217.34 L317.68 216.56 L319.33 215.91 L320.98 215.37 L322.63 214.92 L324.27 214.55 L325.92 214.25 L327.57 214.00 L329.22 213.79 L330.86 213.63 L332.51 213.49 L334.16 213.39 L335.81 213.30 L337.45 213.22 L339.10 213.17" fill="none" stroke="#111" stroke-width="1.15"/>
<path d="M240.10 255.30H243.70L241.90 258.40Z" fill="#111"/>
<path d="M250.80 257.20H254.40L252.60 260.30Z" fill="#111"/>
<path d="M263.70 255.80V262.10M261.70 255.80H265.70M261.70 262.10H265.70" stroke="#111" stroke-width="1.2" fill="none"/>
<path d="M261.90 256.80H265.50L263.70 259.90Z" fill="#111"/>
<path d="M274.20 257.10V262.10M272.20 257.10H276.20M272.20 262.10H276.20" stroke="#111" stroke-width="1.2" fill="none"/>
<path d="M272.40 258.10H276.00L274.20 261.20Z" fill="#111"/>
<path d="M285.10 239.80V255.80M283.10 239.80H287.10M283.10 255.80H287.10" stroke="#111" stroke-width="1.2" fill="none"/>
<path d="M283.30 245.50H286.90L285.10 248.60Z" fill="#111"/>
<path d="M293.70 238.40H297.30L295.50 241.50Z" fill="#111"/>
<path d="M304.00 223.30H307.60L305.80 226.40Z" fill="#111"/>
<path d="M315.40 216.30H319.00L317.20 219.40Z" fill="#111"/>
<path d="M328.20 207.60V220.80M326.20 207.60H330.20M326.20 220.80H330.20" stroke="#111" stroke-width="1.2" fill="none"/>
<path d="M326.40 214.00H330.00L328.20 217.10Z" fill="#111"/>
<path d="M339.10 203.50V214.20M337.10 203.50H341.10M337.10 214.20H341.10" stroke="#111" stroke-width="1.2" fill="none"/>
<path d="M337.30 205.00H340.90L339.10 208.10Z" fill="#111"/>
<text x="367.54" y="175.20" font-size="11.30" font-weight="bold">F</text>
<text x="438.67" y="177.20" font-size="10.86" font-weight="bold">K562</text>
<path d="M390.30 193.00V268.00H513.12" fill="none" stroke="#222" stroke-width="1.25"/>
<text x="381.49" y="195.48" font-size="6.05" textLength="6.23" lengthAdjust="spacingAndGlyphs">60</text>
<text x="381.49" y="206.19" font-size="6.05" textLength="6.23" lengthAdjust="spacingAndGlyphs">50</text>
<text x="381.49" y="216.91" font-size="6.05" textLength="6.23" lengthAdjust="spacingAndGlyphs">40</text>
<text x="381.49" y="227.62" font-size="6.05" textLength="6.23" lengthAdjust="spacingAndGlyphs">30</text>
<text x="381.49" y="238.34" font-size="6.05" textLength="6.23" lengthAdjust="spacingAndGlyphs">20</text>
<text x="381.49" y="249.05" font-size="6.05" textLength="6.23" lengthAdjust="spacingAndGlyphs">10</text>
<text x="384.60" y="259.77" font-size="6.05" textLength="3.11" lengthAdjust="spacingAndGlyphs">0</text>
<text x="379.62" y="270.48" font-size="6.05" textLength="8.09" lengthAdjust="spacingAndGlyphs">-10</text>
<text x="385.43" y="276.50" font-size="6.26" textLength="6.45" lengthAdjust="spacingAndGlyphs">10</text>
<text x="391.98" y="274.30" font-size="3.48">-2</text>
<text x="405.90" y="276.50" font-size="6.26" textLength="6.45" lengthAdjust="spacingAndGlyphs">10</text>
<text x="412.45" y="274.30" font-size="3.48">-1</text>
<text x="426.95" y="276.50" font-size="6.26" textLength="6.45" lengthAdjust="spacingAndGlyphs">10</text>
<text x="433.50" y="274.30" font-size="3.48">0</text>
<text x="447.42" y="276.50" font-size="6.26" textLength="6.45" lengthAdjust="spacingAndGlyphs">10</text>
<text x="453.97" y="274.30" font-size="3.48">1</text>
<text x="467.89" y="276.50" font-size="6.26" textLength="6.45" lengthAdjust="spacingAndGlyphs">10</text>
<text x="474.44" y="274.30" font-size="3.48">2</text>
<text x="488.36" y="276.50" font-size="6.26" textLength="6.45" lengthAdjust="spacingAndGlyphs">10</text>
<text x="494.91" y="274.30" font-size="3.48">3</text>
<text x="508.83" y="276.50" font-size="6.26" textLength="6.45" lengthAdjust="spacingAndGlyphs">10</text>
<text x="515.38" y="274.30" font-size="3.48">4</text>
<path d="M387.30 193.00H390.30M387.30 203.71H390.30M387.30 214.43H390.30M387.30 225.14H390.30M387.30 235.86H390.30M387.30 246.57H390.30M387.30 257.29H390.30M387.30 268.00H390.30M390.30 268.00V270.60M410.77 268.00V270.60M431.24 268.00V270.60M451.71 268.00V270.60M472.18 268.00V270.60M492.65 268.00V270.60M513.12 268.00V270.60" fill="none" stroke="#222" stroke-width="1"/>
<text transform="translate(375.40 251.95) rotate(-90)" x="0" y="0" font-size="6.97" style="stroke-width:0.3px">% Cytotoxicity</text>
<text x="416.62" y="284.75" font-size="6.78" font-weight="bold">Concentration (pg/mL)</text>
<path d="M407.80 251.82 L409.48 251.81 L411.15 251.81 L412.83 251.80 L414.51 251.79 L416.18 251.78 L417.86 251.77 L419.53 251.76 L421.21 251.74 L422.89 251.71 L424.56 251.69 L426.24 251.65 L427.92 251.61 L429.59 251.55 L431.27 251.48 L432.94 251.40 L434.62 251.30 L436.30 251.18 L437.97 251.03 L439.65 250.85 L441.33 250.64 L443.00 250.39 L444.68 250.10 L446.35 249.76 L448.03 249.38 L449.71 248.96 L451.38 248.50 L453.06 248.00 L454.74 247.49 L456.41 246.97 L458.09 246.45 L459.76 245.95 L461.44 245.48 L463.12 245.04 L464.79 244.64 L466.47 244.29 L468.15 243.98 L469.82 243.72 L471.50 243.49 L473.17 243.30 L474.85 243.14 L476.53 243.01 L478.20 242.90 L479.88 242.81 L481.56 242.74 L483.23 242.68 L484.91 242.63 L486.58 242.60 L488.26 242.56 L489.94 242.54 L491.61 242.52 L493.29 242.50 L494.97 242.49 L496.64 242.48 L498.32 242.47 L499.99 242.46 L501.67 242.46 L503.35 242.45 L505.02 242.45 L506.70 242.45" fill="none" stroke="#111" stroke-width="1.15"/>
<path d="M407.80 247.30V259.40M405.80 247.30H409.80M405.80 259.40H409.80" stroke="#111" stroke-width="1.2" fill="none"/>
<path d="M406.00 249.80H409.60L407.80 252.90Z" fill="#111"/>
<path d="M418.70 249.30H422.30L420.50 252.40Z" fill="#111"/>
<path d="M432.80 249.00V260.60M430.80 249.00H434.80M430.80 260.60H434.80" stroke="#111" stroke-width="1.2" fill="none"/>
<path d="M431.00 253.30H434.60L432.80 256.40Z" fill="#111"/>
<path d="M445.20 243.80V258.30M443.20 243.80H447.20M443.20 258.30H447.20" stroke="#111" stroke-width="1.2" fill="none"/>
<path d="M443.40 249.30H447.00L445.20 252.40Z" fill="#111"/>
<path d="M457.60 244.40V253.30M455.60 244.40H459.60M455.60 253.30H459.60" stroke="#111" stroke-width="1.2" fill="none"/>
<path d="M455.80 247.60H459.40L457.60 250.70Z" fill="#111"/>
<path d="M470.10 238.60V250.70M468.10 238.60H472.10M468.10 250.70H472.10" stroke="#111" stroke-width="1.2" fill="none"/>
<path d="M468.30 242.90H471.90L470.10 246.00Z" fill="#111"/>
<path d="M481.90 233.80V248.30M479.90 233.80H483.90M479.90 248.30H483.90" stroke="#111" stroke-width="1.2" fill="none"/>
<path d="M480.10 241.50H483.70L481.90 244.60Z" fill="#111"/>
<path d="M494.50 236.00V247.50M492.50 236.00H496.50M492.50 247.50H496.50" stroke="#111" stroke-width="1.2" fill="none"/>
<path d="M492.70 241.30H496.30L494.50 244.40Z" fill="#111"/>
<path d="M506.70 236.50V252.20M504.70 236.50H508.70M504.70 252.20H508.70" stroke="#111" stroke-width="1.2" fill="none"/>
<path d="M504.90 242.90H508.50L506.70 246.00Z" fill="#111"/>
<path d="M407.80 258.11 L409.48 258.03 L411.15 257.94 L412.83 257.84 L414.51 257.73 L416.18 257.61 L417.86 257.48 L419.53 257.34 L421.21 257.18 L422.89 257.01 L424.56 256.83 L426.24 256.63 L427.92 256.41 L429.59 256.18 L431.27 255.92 L432.94 255.65 L434.62 255.35 L436.30 255.03 L437.97 254.69 L439.65 254.33 L441.33 253.94 L443.00 253.52 L444.68 253.08 L446.35 252.62 L448.03 252.13 L449.71 251.62 L451.38 251.09 L453.06 250.54 L454.74 249.97 L456.41 249.38 L458.09 248.77 L459.76 248.15 L461.44 247.52 L463.12 246.89 L464.79 246.25 L466.47 245.61 L468.15 244.97 L469.82 244.34 L471.50 243.72 L473.17 243.11 L474.85 242.51 L476.53 241.93 L478.20 241.37 L479.88 240.83 L481.56 240.31 L483.23 239.81 L484.91 239.34 L486.58 238.89 L488.26 238.47 L489.94 238.07 L491.61 237.69 L493.29 237.34 L494.97 237.01 L496.64 236.71 L498.32 236.42 L499.99 236.16 L501.67 235.92 L503.35 235.69 L505.02 235.49 L506.70 235.29" fill="none" stroke="#111" stroke-width="1.15"/>
<circle cx="407.80" cy="257.10" r="1.7" fill="#111"/>
<circle cx="420.50" cy="258.30" r="1.7" fill="#111"/>
<circle cx="432.80" cy="257.10" r="1.7" fill="#111"/>
<circle cx="445.20" cy="252.00" r="1.7" fill="#111"/>
<circle cx="457.60" cy="248.50" r="1.7" fill="#111"/>
<circle cx="470.10" cy="244.40" r="1.7" fill="#111"/>
<path d="M481.90 233.80V248.30M479.90 233.80H483.90M479.90 248.30H483.90" stroke="#111" stroke-width="1.2" fill="none"/>
<circle cx="481.90" cy="241.00" r="1.7" fill="#111"/>
<path d="M494.50 228.60V245.00M492.50 228.60H496.50M492.50 245.00H496.50" stroke="#111" stroke-width="1.2" fill="none"/>
<circle cx="494.50" cy="237.30" r="1.7" fill="#111"/>
<path d="M506.70 229.40V242.00M504.70 229.40H508.70M504.70 242.00H508.70" stroke="#111" stroke-width="1.2" fill="none"/>
<circle cx="506.70" cy="235.70" r="1.7" fill="#111"/>
</svg>
</body></html>
